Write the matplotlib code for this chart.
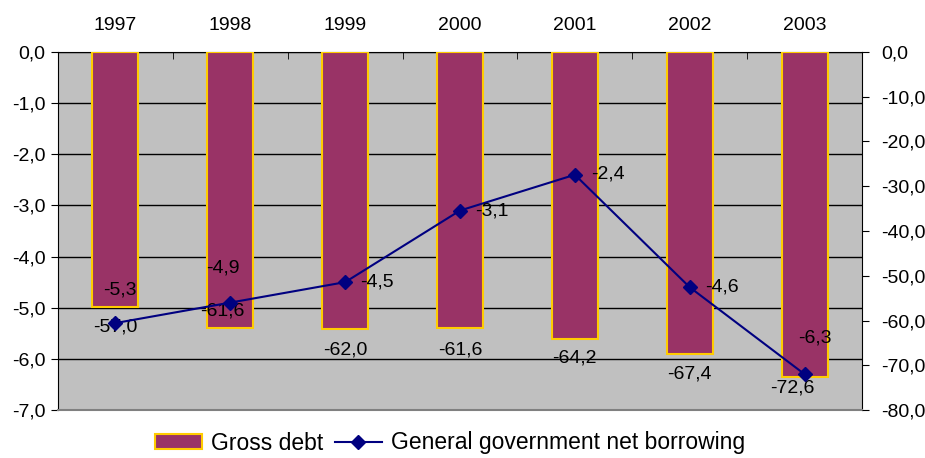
import matplotlib
matplotlib.use("Agg")
import matplotlib.pyplot as plt
from matplotlib.patches import Patch
from matplotlib.lines import Line2D
from matplotlib.ticker import FixedLocator, FuncFormatter

plt.rcParams['font.family'] = ['Liberation Sans', 'DejaVu Sans']

years = ['1997', '1998', '1999', '2000', '2001', '2002', '2003']
gross_debt = [-57.0, -61.6, -62.0, -61.6, -64.2, -67.4, -72.6]
net_borrowing = [-5.3, -4.9, -4.5, -3.1, -2.4, -4.6, -6.3]
left_ticks = [0, -1, -2, -3, -4, -5, -6, -7]
right_ticks = [0, -10, -20, -30, -40, -50, -60, -70, -80]

# label offsets in pixels (style only)
nb_off = [(4, 33, 'center'), (-7, 35, 'center'), (15, 0, 'left'), (15, 0, 'left'),
          (16, 1, 'left'), (15, 0, 'left'), (10, 36, 'center')]
gd_off = [(0, -20), (-8, 17), (0, -21), (0, -22), (0, -19), (0, -20), (-12, -11)]

fs = 14
fig = plt.figure(figsize=(9.25, 4.58), dpi=100)
pos = [58/925, 1-410/458, (862-58)/925, (410-52)/458]

x = list(range(len(years)))

# background axis with left scale and gridlines
ax = fig.add_axes(pos)
ax.set_facecolor('#C0C0C0')
ax.set_xlim(-0.5, len(years)-0.5)
ax.set_ylim(-7, 0)
ax.yaxis.set_major_locator(FixedLocator(left_ticks))
ax.yaxis.set_major_formatter(FuncFormatter(lambda v, p: f"{v:.1f}".replace('.', ',')))
ax.grid(axis='y', color='black', linewidth=1)
ax.tick_params(axis='y', direction='out', length=5, labelsize=fs, pad=4)
ax.xaxis.tick_top()
ax.set_xticks(x)
ax.set_xticklabels(years, fontsize=fs)
ax.tick_params(axis='x', which='major', length=0, pad=13)
ax.set_xticks([i + 0.5 for i in x[:-1]], minor=True)
ax.tick_params(axis='x', which='minor', direction='in', length=5, top=True, bottom=False)
for s in ['left', 'top', 'right']:
    ax.spines[s].set_color('black')
ax.spines['bottom'].set_color('#808080')
ax.spines['bottom'].set_linewidth(1.5)

# bars on right scale
ax2 = ax.twinx()
ax2.set_ylim(-80, 0)
ax2.yaxis.set_major_locator(FixedLocator(right_ticks))
ax2.yaxis.set_major_formatter(FuncFormatter(lambda v, p: f"{v:.1f}".replace('.', ',')))
ax2.tick_params(axis='y', direction='out', length=5, labelsize=fs, pad=9)
ax2.patch.set_visible(False)
for s in ax2.spines.values():
    s.set_visible(False)
ax2.bar(x, gross_debt, width=0.4, color='#993366', edgecolor='#FFCC00', linewidth=1.5)
for i, v in enumerate(gross_debt):
    dx, dy = gd_off[i]
    ax2.annotate(f"{v:.1f}".replace('.', ','), (x[i], v), xytext=(dx, dy),
                 textcoords='offset pixels', ha='center', va='center', fontsize=fs)

# line on left scale, on top
ax3 = fig.add_axes(pos, sharex=ax, sharey=ax)
ax3.patch.set_visible(False)
ax3.axis('off')
ax3.plot(x, net_borrowing, color='#000080', marker='D', markersize=7.5, linewidth=1.5)
for i, v in enumerate(net_borrowing):
    dx, dy, ha = nb_off[i]
    ax3.annotate(f"{v:.1f}".replace('.', ','), (x[i], v), xytext=(dx, dy),
                 textcoords='offset pixels', ha=ha, va='center', fontsize=fs)

handles = [Patch(facecolor='#993366', edgecolor='#FFCC00', linewidth=1.5),
           Line2D([0], [0], color='#000080', marker='D', markersize=7, linewidth=1.5)]
fig.legend(handles, ['Gross debt', 'General government net borrowing'],
           loc='center', bbox_to_anchor=(450/925, 1-443/458), ncol=2, frameon=False,
           fontsize=16.5, handlelength=2.05, handleheight=0.6, handletextpad=0.4,
           columnspacing=0.5, borderpad=0.1)

fig.savefig('out.png', dpi=100)
